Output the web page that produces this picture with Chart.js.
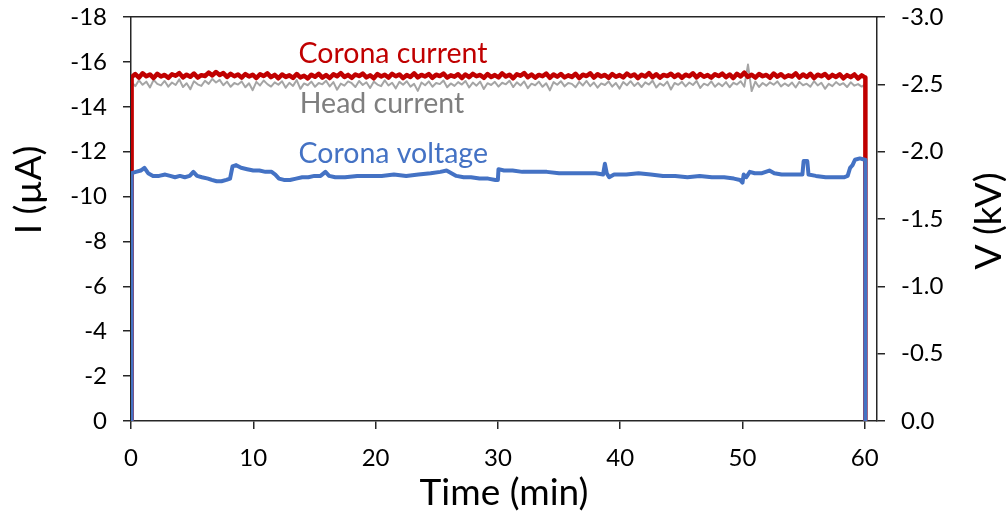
<!DOCTYPE html>
<html>
<head>
<meta charset="utf-8">
<title>Corona current and voltage</title>
<script src="https://cdn.jsdelivr.net/npm/chart.js@4.4.0/dist/chart.umd.min.js"></script>
<style>
  html, body { margin: 0; padding: 0; background: #fff; }
  #corona-chart { display: block; }
</style>
</head>
<body>
<canvas id="corona-chart" width="1006" height="515"></canvas>
<script>
// Sampling of the current logs (minutes)
const SWITCH_ON = 0.05;
const SWITCH_OFF = 60.05;
const SAMPLE_STEP = 0.3;

// Corona current (µA), one value per sample
const coronaCurrent = [
  -15.32, -15.46, -15.30, -15.49, -15.36, -15.44, -15.28, -15.47, -15.35, -15.42,
  -15.29, -15.45, -15.38, -15.50, -15.31, -15.43, -15.34, -15.48, -15.30, -15.41,
  -15.37, -15.52, -15.40, -15.55, -15.42, -15.50, -15.33, -15.47, -15.36, -15.44,
  -15.30, -15.46, -15.35, -15.43, -15.28, -15.45, -15.37, -15.49, -15.32, -15.42,
  -15.27, -15.44, -15.33, -15.40, -15.29, -15.46, -15.31, -15.38, -15.26, -15.43,
  -15.34, -15.47, -15.30, -15.41, -15.28, -15.45, -15.36, -15.50, -15.33, -15.42,
  -15.29, -15.44, -15.37, -15.48, -15.31, -15.40, -15.27, -15.46, -15.35, -15.43,
  -15.30, -15.47, -15.36, -15.44, -15.28, -15.41, -15.33, -15.49, -15.31, -15.42,
  -15.35, -15.46, -15.29, -15.43, -15.37, -15.48, -15.30, -15.40, -15.34, -15.45,
  -15.28, -15.44, -15.32, -15.47, -15.36, -15.42, -15.29, -15.46, -15.33, -15.41,
  -15.31, -15.49, -15.35, -15.43, -15.27, -15.45, -15.38, -15.50, -15.32, -15.44,
  -15.30, -15.42, -15.36, -15.48, -15.29, -15.44, -15.34, -15.46, -15.31, -15.40,
  -15.33, -15.47, -15.28, -15.43, -15.37, -15.49, -15.30, -15.45, -15.35, -15.42,
  -15.29, -15.46, -15.34, -15.41, -15.31, -15.48, -15.36, -15.44, -15.28, -15.43,
  -15.35, -15.50, -15.32, -15.45, -15.30, -15.42, -15.37, -15.47, -15.33, -15.44,
  -15.29, -15.43, -15.36, -15.49, -15.31, -15.46, -15.34, -15.41, -15.30, -15.45,
  -15.37, -15.48, -15.32, -15.44, -15.28, -15.47, -15.35, -15.52, -15.33, -15.43,
  -15.30, -15.46, -15.36, -15.42, -15.29, -15.48, -15.34, -15.45, -15.31, -15.40,
  -15.35, -15.49, -15.30, -15.44, -15.33, -15.47, -15.28, -15.43, -15.36, -15.46,
  -15.29, -15.42, -15.33, -15.45, -15.27, -15.41, -15.32, -15.44, -15.26, -15.40,
  -15.30
];

// Head current (µA), same sampling
const headCurrent = [
  -15.10, -14.92, -15.18, -14.98, -15.12, -14.86, -15.20, -15.02, -14.95, -15.15,
  -14.90, -15.08, -14.97, -15.22, -14.88, -15.05, -14.78, -15.14, -15.00, -14.93,
  -15.16, -15.02, -15.24, -15.08, -15.20, -14.96, -15.12, -14.89, -15.06, -14.99,
  -15.13, -14.87, -15.05, -14.74, -15.11, -14.95, -15.17, -15.01, -14.90, -15.09,
  -14.98, -15.14, -14.85, -15.07, -14.93, -15.19, -14.80, -15.04, -14.96, -15.12,
  -14.89, -15.06, -15.00, -15.16, -14.91, -15.10, -14.76, -15.03, -14.94, -15.13,
  -15.05, -14.88, -15.15, -14.97, -15.09, -14.84, -15.12, -14.99, -14.92, -15.18,
  -14.95, -15.07, -14.82, -15.11, -14.98, -15.14, -14.90, -15.02, -14.71, -15.08,
  -14.96, -15.13, -14.89, -15.06, -15.01, -15.17, -14.87, -15.04, -14.93, -15.10,
  -14.99, -15.15, -14.86, -15.08, -14.94, -15.12, -14.79, -15.05, -14.97, -15.11,
  -14.90, -15.07, -15.00, -15.16, -14.88, -15.09, -14.95, -15.13, -14.83, -15.03,
  -14.96, -15.12, -14.89, -15.05, -14.73, -15.10, -14.98, -15.14, -14.91, -15.06,
  -15.02, -14.87, -15.11, -14.95, -15.15, -14.92, -15.08, -14.85, -15.04, -14.97,
  -15.13, -14.90, -15.06, -14.81, -15.10, -14.96, -15.14, -14.93, -15.07, -14.88,
  -15.09, -14.99, -15.16, -14.86, -15.04, -14.94, -15.12, -14.77, -15.06, -14.98,
  -15.11, -14.91, -15.08, -14.97, -15.15, -14.84, -15.03, -14.95, -15.13, -14.89,
  -15.05, -14.92, -15.10, -14.87, -15.07, -14.99, -15.14, -14.90, -15.88, -14.70,
  -15.12, -14.88, -15.06, -14.94, -15.09, -14.98, -15.13, -14.91, -15.04, -14.93,
  -15.08, -14.86, -15.11, -14.96, -15.03, -14.89, -15.14, -14.95, -15.07, -14.80,
  -15.02, -14.92, -15.10, -14.97, -15.05, -14.88, -15.09, -14.94, -15.01, -14.90,
  -15.00
];

// Corona voltage (kV) at logged times (min)
const voltageTime = [
  0.05, 0.05, 0.4, 0.8, 1.1, 1.4, 1.8, 2.3, 2.8, 3.2,
  3.6, 4.0, 4.4, 4.8, 5.1, 5.4, 5.8, 6.3, 6.6, 7.0,
  7.4, 7.8, 8.1, 8.3, 8.6, 9.0, 9.5, 10.0, 10.5, 11.0,
  11.5, 11.8, 12.1, 12.5, 13.0, 13.5, 14.0, 14.5, 15.0, 15.5,
  15.9, 16.2, 16.7, 17.5, 18.5, 19.5, 20.5, 21.5, 22.5, 23.5,
  24.5, 25.3, 25.8, 26.2, 26.6, 27.2, 27.8, 28.5, 29.2, 29.8,
  30.0, 30.05, 30.5, 31.2, 32.0, 33.0, 34.0, 35.0, 36.0, 37.0,
  38.0, 38.6, 38.75, 38.9, 39.1, 39.5, 40.5, 41.5, 42.5, 43.5,
  44.5, 45.5, 46.5, 47.5, 48.5, 49.3, 49.8, 50.0, 50.1, 50.3,
  50.6, 51.0, 51.6, 52.2, 52.6, 53.2, 54.0, 54.9, 55.0, 55.3,
  55.4, 56.0, 56.8, 57.5, 58.3, 58.6, 58.8, 59.0, 59.2, 59.6,
  60.0, 60.05, 60.05
];
const voltageKV = [
  0, -1.84, -1.85, -1.86, -1.88, -1.84, -1.82, -1.82, -1.83, -1.82,
  -1.81, -1.82, -1.81, -1.82, -1.85, -1.82, -1.81, -1.80, -1.79, -1.78,
  -1.78, -1.79, -1.80, -1.89, -1.90, -1.88, -1.87, -1.86, -1.86, -1.85,
  -1.85, -1.83, -1.80, -1.79, -1.79, -1.80, -1.81, -1.81, -1.82, -1.82,
  -1.85, -1.82, -1.81, -1.81, -1.82, -1.82, -1.82, -1.83, -1.82, -1.83,
  -1.84, -1.85, -1.86, -1.84, -1.82, -1.81, -1.81, -1.80, -1.80, -1.79,
  -1.79, -1.87, -1.86, -1.86, -1.85, -1.85, -1.85, -1.84, -1.84, -1.84,
  -1.84, -1.83, -1.91, -1.84, -1.81, -1.83, -1.83, -1.84, -1.83, -1.82,
  -1.82, -1.81, -1.82, -1.81, -1.81, -1.80, -1.79, -1.77, -1.83, -1.81,
  -1.85, -1.84, -1.84, -1.86, -1.84, -1.83, -1.83, -1.83, -1.93, -1.93,
  -1.83, -1.82, -1.81, -1.81, -1.81, -1.82, -1.88, -1.90, -1.94, -1.95,
  -1.94, -1.94, 0
];

// Axis ticks
const timeTicks = [0, 10, 20, 30, 40, 50, 60];
const currentTicks = [-18, -16, -14, -12, -10, -8, -6, -4, -2, 0];
const voltageTicks = [-3.0, -2.5, -2.0, -1.5, -1.0, -0.5, 0.0];

const RED = '#C00000';
const GREY = '#A5A5A5';
const BLUE = '#4472C4';
const AXIS = '#262626';
const FONT = 'Lato';

// Inline series names, placed in data units
const seriesNames = [
  { text: 'Corona current', color: RED, t: 13.7, i: -15.95 },
  { text: 'Head current', color: '#7F7F7F', t: 13.8, i: -13.73 },
  { text: 'Corona voltage', color: BLUE, t: 13.7, i: -11.5 }
];

// Switch on -> samples -> switch off
function currentSeries(values) {
  const pts = [{ x: SWITCH_ON, y: 0 }];
  values.forEach((v, i) => pts.push({ x: SWITCH_ON + i * SAMPLE_STEP, y: v }));
  pts.push({ x: SWITCH_OFF, y: 0 });
  return pts;
}

const voltagePoints = voltageTime.map((t, i) => ({ x: t, y: voltageKV[i] }));

// Fixed box sizes so the plot area sits where it should
function fixSize(prop, size) {
  return s => {
    s[prop] = size;
    s.paddingTop = 0;
    s.paddingBottom = 0;
    s.paddingLeft = 0;
    s.paddingRight = 0;
  };
}

const textPlugin = {
  id: 'coronaText',
  afterDraw(chart) {
    const ctx = chart.ctx;
    const xs = chart.scales.x;
    const ys = chart.scales.yI;
    ctx.save();

    ctx.font = '28.5px ' + FONT;
    ctx.textAlign = 'left';
    ctx.textBaseline = 'alphabetic';
    seriesNames.forEach(s => {
      ctx.fillStyle = s.color;
      ctx.fillText(s.text, xs.getPixelForValue(s.t), ys.getPixelForValue(s.i));
    });

    // vertical axis titles, both read bottom to top
    ctx.fillStyle = '#000';
    ctx.font = '37px ' + FONT;
    ctx.textAlign = 'center';
    ctx.textBaseline = 'middle';
    [['I (µA)', 29, 190], ['V (kV)', 989, 221]].forEach(([txt, px, py]) => {
      ctx.save();
      ctx.translate(px, py);
      ctx.rotate(-Math.PI / 2);
      ctx.fillText(txt, 0, 0);
      ctx.restore();
    });
    ctx.restore();
  }
};

Chart.defaults.font.family = FONT;
Chart.defaults.color = '#000';

const ctx = document.getElementById('corona-chart').getContext('2d');
new Chart(ctx, {
  type: 'line',
  data: {
    datasets: [
      {
        label: 'Corona voltage',
        data: voltagePoints,
        xAxisID: 'x',
        yAxisID: 'yV',
        borderColor: BLUE,
        borderWidth: 4,
        order: 0
      },
      {
        label: 'Corona current',
        data: currentSeries(coronaCurrent),
        xAxisID: 'x',
        yAxisID: 'yI',
        borderColor: RED,
        borderWidth: 4.5,
        order: 1
      },
      {
        label: 'Head current',
        data: currentSeries(headCurrent),
        xAxisID: 'x',
        yAxisID: 'yI',
        borderColor: GREY,
        borderWidth: 2,
        order: 2
      }
    ]
  },
  options: {
    responsive: false,
    devicePixelRatio: 1,
    animation: false,
    layout: { padding: 0 },
    elements: {
      point: { radius: 0, hoverRadius: 0 },
      line: { tension: 0, borderJoinStyle: 'round', borderCapStyle: 'butt' }
    },
    plugins: {
      legend: { display: false },
      tooltip: { enabled: false },
      title: { display: false }
    },
    scales: {
      x: {
        type: 'linear',
        position: 'bottom',
        min: 0,
        max: 61,
        afterBuildTicks: s => { s.ticks = timeTicks.map(v => ({ value: v })); },
        afterFit: fixSize('height', 94),
        border: { display: true, color: AXIS, width: 1.5 },
        grid: { drawOnChartArea: false, drawTicks: true, tickLength: 8, color: AXIS, lineWidth: 1.5 },
        ticks: { padding: 15, font: { size: 24 }, color: '#000', maxRotation: 0 },
        title: { display: true, text: 'Time (min)', font: { size: 37 }, color: '#000', padding: { top: 0, bottom: 0 } }
      },
      x2: {
        type: 'linear',
        position: 'top',
        min: 0,
        max: 61,
        afterFit: fixSize('height', 17),
        border: { display: true, color: AXIS, width: 1.5 },
        grid: { drawOnChartArea: false, drawTicks: false },
        ticks: { display: false }
      },
      yI: {
        type: 'linear',
        position: 'left',
        min: -18,
        max: 0,
        reverse: true,
        afterBuildTicks: s => { s.ticks = currentTicks.map(v => ({ value: v })); },
        afterFit: fixSize('width', 131),
        border: { display: true, color: AXIS, width: 1.5 },
        grid: { drawOnChartArea: false, drawTicks: true, tickLength: 8, color: AXIS, lineWidth: 1.5 },
        ticks: { padding: 16, font: { size: 24 }, color: '#000', callback: v => String(v) }
      },
      yV: {
        type: 'linear',
        position: 'right',
        min: -3,
        max: 0,
        reverse: true,
        afterBuildTicks: s => { s.ticks = voltageTicks.map(v => ({ value: v })); },
        afterFit: fixSize('width', 129),
        border: { display: true, color: AXIS, width: 1.5 },
        grid: { drawOnChartArea: false, drawTicks: true, tickLength: 8, color: AXIS, lineWidth: 1.5 },
        ticks: { padding: 16, font: { size: 24 }, color: '#000', callback: v => v.toFixed(1) }
      }
    }
  },
  plugins: [textPlugin]
});
</script>
</body>
</html>
